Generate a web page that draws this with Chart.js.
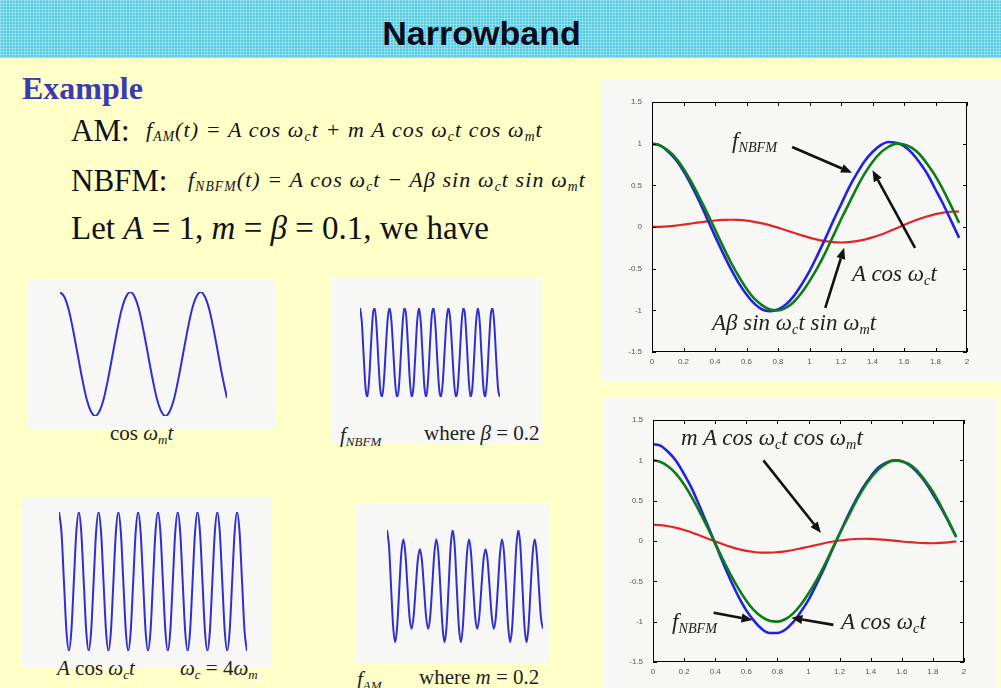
<!DOCTYPE html>
<html><head><meta charset="utf-8">
<script src="https://cdn.jsdelivr.net/npm/chart.js@4.4.0/dist/chart.umd.min.js"></script>
<style>
html,body{margin:0;padding:0;}
body{width:1001px;height:688px;position:relative;overflow:hidden;background:#FFFFC8;font-family:"Liberation Serif","Times New Roman",serif;color:#111;}
#hdr{position:absolute;left:0;top:0;width:1001px;height:58px;background-color:#55CDE3;
 background-image:repeating-linear-gradient(90deg,rgba(255,255,255,0.30) 0 1px,transparent 1px 3px),repeating-linear-gradient(0deg,rgba(255,255,255,0.30) 0 1px,transparent 1px 3px);}
#title{position:absolute;left:0;width:963px;top:16px;text-align:center;font:bold 34px/1 "Liberation Sans",Arial,sans-serif;color:#0b0b1e;}
.abs{position:absolute;white-space:nowrap;line-height:1;}
.panel{position:absolute;background:#F7F7F5;}
canvas{position:absolute;}
sub{font-size:62%;vertical-align:-0.28em;line-height:0;}
.eq{font-style:italic;font-size:22px;letter-spacing:1.1px;}
.ann{font-style:italic;font-size:23px;color:#222;}
.lab{font-size:21px;color:#222;}
i{font-style:italic;}
</style>
</head>
<body>
<div id="hdr"><div id="title">Narrowband</div></div>

<div class="abs" style="left:22px;top:72px;font-size:32px;font-weight:bold;color:#3a3ab2;">Example</div>
<div class="abs" style="left:71px;top:115px;font-size:31px;">AM:</div>
<div class="abs eq" style="left:146px;top:119px;">f<sub>AM</sub>(t) = A cos ω<sub>c</sub>t + m A cos ω<sub>c</sub>t cos ω<sub>m</sub>t</div>
<div class="abs" style="left:71px;top:165px;font-size:31px;">NBFM:</div>
<div class="abs eq" style="left:188px;top:169px;">f<sub>NBFM</sub>(t) = A cos ω<sub>c</sub>t − Aβ sin ω<sub>c</sub>t sin ω<sub>m</sub>t</div>
<div class="abs" style="left:71px;top:212px;font-size:33px;">Let <i>A</i> = 1, <i>m</i> = <i>β</i> = 0.1, we have</div>

<div class="panel" style="left:28px;top:280px;width:247px;height:150px;"></div>
<div class="panel" style="left:332px;top:278px;width:210px;height:165px;"></div>
<div class="panel" style="left:22px;top:497px;width:250px;height:170px;"></div>
<div class="panel" style="left:355px;top:503px;width:195px;height:160px;"></div>
<div class="panel" style="left:601px;top:80px;width:400px;height:302px;background:#F7F7F6;"></div>
<div class="panel" style="left:603px;top:398px;width:394px;height:290px;background:#F7F7F6;"></div>

<canvas id="c1" width="173" height="130" style="left:57px;top:289px;"></canvas>
<canvas id="c2" width="146" height="95" style="left:357px;top:305px;"></canvas>
<canvas id="c3" width="194" height="145" style="left:56px;top:509px;"></canvas>
<canvas id="c4" width="162" height="121" style="left:384px;top:527px;"></canvas>
<canvas id="cTop" width="349" height="272" style="left:626px;top:96px;"></canvas>
<canvas id="cBot" width="345" height="264" style="left:627px;top:414px;"></canvas>

<div class="abs lab" style="left:110px;top:423px;">cos <i>ω<sub>m</sub>t</i></div>
<div class="abs lab" style="left:340px;top:425px;"><i>f<sub>NBFM</sub></i></div>
<div class="abs lab" style="left:424px;top:423px;">where <i>β</i> = 0.2</div>
<div class="abs lab" style="left:57px;top:658px;"><i>A</i> cos <i>ω<sub>c</sub>t</i></div>
<div class="abs lab" style="left:180px;top:658px;"><i>ω<sub>c</sub></i> = 4<i>ω<sub>m</sub></i></div>
<div class="abs lab" style="left:357px;top:669px;"><i>f<sub>AM</sub></i></div>
<div class="abs lab" style="left:419px;top:667px;">where <i>m</i> = 0.2</div>

<div class="abs ann" style="left:732px;top:129px;">f<sub>NBFM</sub></div>
<div class="abs ann" style="left:852px;top:262px;">A cos ω<sub>c</sub>t</div>
<div class="abs ann" style="left:712px;top:311px;">Aβ sin ω<sub>c</sub>t sin ω<sub>m</sub>t</div>
<div class="abs ann" style="left:681px;top:426px;">m A cos ω<sub>c</sub>t cos ω<sub>m</sub>t</div>
<div class="abs ann" style="left:672px;top:610px;">f<sub>NBFM</sub></div>
<div class="abs ann" style="left:841px;top:610px;">A cos ω<sub>c</sub>t</div>

<script>
// ---- data ----
const tBig = [0,0.05,0.1,0.15,0.2,0.25,0.3,0.35,0.4,0.45,0.5,0.55,0.6,0.65,0.7,0.75,0.8,0.85,0.9,0.95,1,1.05,1.1,1.15,1.2,1.25,1.3,1.35,1.4,1.45,1.5,1.55,1.6,1.65,1.7,1.75,1.8,1.85,1.9,1.95];
const xTickVals = [0,0.2,0.4,0.6,0.8,1,1.2,1.4,1.6,1.8,2];
const yTickVals = [-1.5,-1,-0.5,0,0.5,1,1.5];

// top-right plot
const carrierTop = [1.00,0.98,0.92,0.83,0.70,0.54,0.36,0.17,-0.03,-0.23,-0.42,-0.59,-0.74,-0.86,-0.94,-0.99,-1.00,-0.97,-0.90,-0.79,-0.65,-0.49,-0.31,-0.11,0.09,0.28,0.47,0.64,0.78,0.89,0.96,1.00,0.99,0.95,0.87,0.75,0.61,0.44,0.25,0.05];
const sinTermTop = [0.000,0.002,0.008,0.017,0.029,0.042,0.055,0.068,0.078,0.085,0.087,0.085,0.076,0.062,0.043,0.019,-0.008,-0.039,-0.069,-0.100,-0.127,-0.151,-0.170,-0.182,-0.186,-0.182,-0.170,-0.151,-0.124,-0.092,-0.056,-0.017,0.023,0.062,0.098,0.129,0.155,0.173,0.183,0.186];
const fNbfmTop = [1.00,0.98,0.91,0.81,0.67,0.50,0.31,0.10,-0.11,-0.31,-0.50,-0.67,-0.81,-0.92,-0.99,-1.01,-0.99,-0.93,-0.83,-0.69,-0.53,-0.34,-0.14,0.07,0.27,0.47,0.64,0.79,0.90,0.98,1.02,1.01,0.97,0.89,0.77,0.63,0.45,0.27,0.07,-0.13];

// bottom-right plot
const carrierBot = [1.00,0.98,0.92,0.83,0.70,0.54,0.36,0.17,-0.03,-0.23,-0.42,-0.59,-0.74,-0.86,-0.94,-0.99,-1.00,-0.97,-0.90,-0.79,-0.65,-0.49,-0.31,-0.11,0.09,0.28,0.47,0.64,0.78,0.89,0.96,1.00,0.99,0.95,0.87,0.75,0.61,0.44,0.25,0.05];
const cosTermBot = [0.200,0.196,0.183,0.163,0.137,0.105,0.069,0.032,-0.005,-0.041,-0.073,-0.100,-0.122,-0.136,-0.144,-0.145,-0.139,-0.128,-0.112,-0.092,-0.071,-0.049,-0.028,-0.009,0.006,0.018,0.025,0.028,0.026,0.021,0.014,0.004,-0.006,-0.015,-0.022,-0.027,-0.028,-0.024,-0.016,-0.004];
const fAmBot = [1.20,1.18,1.10,0.99,0.83,0.65,0.43,0.20,-0.03,-0.27,-0.49,-0.69,-0.86,-0.99,-1.09,-1.14,-1.14,-1.10,-1.01,-0.88,-0.73,-0.54,-0.34,-0.12,0.09,0.30,0.49,0.66,0.80,0.91,0.97,1.00,0.99,0.94,0.85,0.73,0.58,0.42,0.24,0.05];

// small plots
const cosWm = [1.00,0.92,0.71,0.38,0.00,-0.38,-0.71,-0.92,-1.00,-0.92,-0.71,-0.38,0.00,0.38,0.71,0.92,1.00,0.92,0.71,0.38,0.00,-0.38,-0.71,-0.92,-1.00,-0.92,-0.71,-0.38,0.00,0.38,0.71,0.92,1.00,0.92,0.71,0.38,0.00,-0.38,-0.71];
const carrierSmall = [1,0.71,0,-0.71,-1,-0.71,0,0.71, 1,0.71,0,-0.71,-1,-0.71,0,0.71, 1,0.71,0,-0.71,-1,-0.71,0,0.71, 1,0.71,0,-0.71,-1,-0.71,0,0.71, 1,0.71,0,-0.71,-1,-0.71,0,0.71, 1,0.71,0,-0.71,-1,-0.71,0,0.71, 1,0.71,0,-0.71,-1,-0.71,0,0.71, 1,0.71,0,-0.71,-1,-0.71,0,0.71, 1,0.71,0,-0.71,-1,-0.71,0,0.71, 1,0.71,0,-0.71,-1];
const nbfmSmall = [1.00,0.68,-0.08,-0.79,-1.00,-0.59,0.19,0.85,1.00,0.57,-0.19,-0.83,-1.00,-0.63,0.08,0.74,1.00,0.74,0.08,-0.63,-1.00,-0.83,-0.19,0.57,1.00,0.85,0.19,-0.59,-1.00,-0.79,-0.08,0.68,1.00,
 0.68,-0.08,-0.79,-1.00,-0.59,0.19,0.85,1.00,0.57,-0.19,-0.83,-1.00,-0.63,0.08,0.74,1.00,0.74,0.08,-0.63,-1.00,-0.83,-0.19,0.57,1.00,0.85,0.19,-0.59,-1.00,-0.79,-0.08,0.68,1.00,
 0.68,-0.08,-0.79,-1.00,-0.59,0.19,0.85,1.00,0.57,-0.19,-0.83,-1.00];
const amSmall = [1.20,0.85,0.00,-0.82,-1.14,-0.79,0.00,0.73,1.00,0.68,0.00,-0.63,-0.86,-0.59,0.00,0.57,0.80,0.57,0.00,-0.59,-0.86,-0.63,0.00,0.68,1.00,0.73,0.00,-0.79,-1.14,-0.82,0.00,0.85,1.20,
 0.85,0.00,-0.82,-1.14,-0.79,0.00,0.73,1.00,0.68,0.00,-0.63,-0.86,-0.59,0.00,0.57,0.80,0.57,0.00,-0.59,-0.86,-0.63,0.00,0.68,1.00,0.73,0.00,-0.79,-1.14,-0.82,0.00,0.85,1.20,
 0.85,0.00,-0.82,-1.14,-0.79,0.00,0.73,1.00,0.68,0.00,-0.63,-0.86];

// annotation arrows in data units [x0,y0,x1,y1] (head at x1,y1)
const arrowsTop = [[0.89,0.96,1.27,0.65],[1.67,-0.25,1.40,0.68],[1.10,-0.97,1.22,-0.25]];
const arrowsBot = [[0.71,1.00,1.08,0.10],[0.39,-0.89,0.64,-0.98],[1.16,-1.04,0.89,-0.95]];

// ---- drawing ----
Chart.defaults.animation = false;
const pts = (xs, ys) => ys.map((v, i) => ({x: xs[i], y: v}));
const idx = (ys) => ys.map((v, i) => ({x: i, y: v}));

function smallChart(id, ys, ymin, ymax) {
  new Chart(document.getElementById(id), {
    type: 'line',
    data: {datasets: [{data: idx(ys), borderColor: '#3030cf', borderWidth: 2, pointRadius: 0, cubicInterpolationMode: 'monotone', fill: false}]},
    options: {
      responsive: false, devicePixelRatio: 1, events: [],
      layout: {padding: 3},
      plugins: {legend: {display: false}, tooltip: {enabled: false}},
      scales: {
        x: {type: 'linear', display: false, min: 0, max: ys.length - 1},
        y: {display: false, min: ymin, max: ymax}
      }
    }
  });
}
smallChart('c1', cosWm, -1, 1);
smallChart('c2', nbfmSmall, -1, 1);
smallChart('c3', carrierSmall, -1, 1);
smallChart('c4', amSmall, -1.2, 1.2);

const frameAndArrows = {
  id: 'frameAndArrows',
  afterDatasetsDraw(chart, args, opts) {
    const {ctx, chartArea: a, scales: {x, y}} = chart;
    ctx.save();
    ctx.strokeStyle = '#000'; ctx.lineWidth = 1;
    ctx.strokeRect(a.left + 0.5, a.top + 0.5, a.right - a.left - 1, a.bottom - a.top - 1);
    ctx.beginPath();
    x.ticks.forEach(t => {
      const p = Math.round(x.getPixelForValue(t.value)) + 0.5;
      ctx.moveTo(p, a.bottom); ctx.lineTo(p, a.bottom - 4);
      ctx.moveTo(p, a.top); ctx.lineTo(p, a.top + 4);
    });
    y.ticks.forEach(t => {
      const p = Math.round(y.getPixelForValue(t.value)) + 0.5;
      ctx.moveTo(a.left, p); ctx.lineTo(a.left + 4, p);
      ctx.moveTo(a.right, p); ctx.lineTo(a.right - 4, p);
    });
    ctx.stroke();
    (opts.arrows || []).forEach(ar => {
      const x0 = x.getPixelForValue(ar[0]), y0 = y.getPixelForValue(ar[1]);
      const x1 = x.getPixelForValue(ar[2]), y1 = y.getPixelForValue(ar[3]);
      const ang = Math.atan2(y1 - y0, x1 - x0), L = 11, W = 4.5;
      const bx = x1 - L * Math.cos(ang), by = y1 - L * Math.sin(ang);
      ctx.strokeStyle = '#111'; ctx.fillStyle = '#111'; ctx.lineWidth = 2.6;
      ctx.beginPath(); ctx.moveTo(x0, y0); ctx.lineTo(bx, by); ctx.stroke();
      ctx.beginPath();
      ctx.moveTo(x1, y1);
      ctx.lineTo(bx + W * Math.sin(ang), by - W * Math.cos(ang));
      ctx.lineTo(bx - W * Math.sin(ang), by + W * Math.cos(ang));
      ctx.closePath(); ctx.fill();
    });
    ctx.restore();
  }
};

function bigChart(id, series, arrows) {
  new Chart(document.getElementById(id), {
    type: 'line',
    data: {datasets: series.map(s => ({data: pts(tBig, s.ys), borderColor: s.color, borderWidth: s.w, pointRadius: 0, cubicInterpolationMode: 'monotone', fill: false}))},
    options: {
      responsive: false, devicePixelRatio: 1, events: [],
      layout: {padding: {top: 6, right: 8, left: 0, bottom: 0}},
      plugins: {legend: {display: false}, tooltip: {enabled: false}, frameAndArrows: {arrows: arrows}},
      scales: {
        x: {type: 'linear', min: 0, max: 2,
            afterBuildTicks: s => { s.ticks = xTickVals.map(v => ({value: v})); },
            afterFit: s => { s.height = 16; },
            grid: {display: false, drawTicks: true, tickLength: 3}, border: {display: false},
            ticks: {font: {size: 8, family: 'Liberation Sans'}, color: '#555', padding: 2, maxRotation: 0, autoSkip: false, callback: v => String(v)}},
        y: {type: 'linear', min: -1.5, max: 1.5,
            afterBuildTicks: s => { s.ticks = yTickVals.map(v => ({value: v})); },
            afterFit: s => { s.width = 26; },
            grid: {display: false, drawTicks: true, tickLength: 10}, border: {display: false},
            ticks: {font: {size: 8, family: 'Liberation Sans'}, color: '#555', padding: 0, autoSkip: false, callback: v => String(v)}}
      }
    },
    plugins: [frameAndArrows]
  });
}
bigChart('cTop', [
  {ys: carrierTop, color: '#0b7d12', w: 2.6},
  {ys: fNbfmTop, color: '#2222e0', w: 2.6},
  {ys: sinTermTop, color: '#e02525', w: 2.2}
], arrowsTop);
bigChart('cBot', [
  {ys: carrierBot, color: '#0b7d12', w: 2.6},
  {ys: fAmBot, color: '#2222e0', w: 2.6},
  {ys: cosTermBot, color: '#e02525', w: 2.2}
], arrowsBot);
</script>
</body></html>
